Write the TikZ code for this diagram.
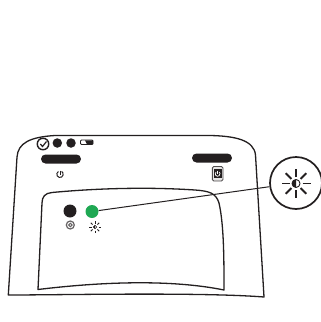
\documentclass[tikz,border=0pt]{standalone}
\definecolor{ink}{HTML}{231F20}
\definecolor{ledgreen}{HTML}{1FA853}
\tikzset{
  outline/.style={draw=ink,line width=1.3pt,line join=round},
  pill/.style={fill=ink,rounded corners=4.5pt},
  led/.style={circle,minimum size=13pt,inner sep=0pt},
  leader/.style={draw=ink,line width=1pt},
  raythick/.style={draw=ink,line width=1.9pt},
}
\begin{document}
\begin{tikzpicture}[x=1pt,y=-1pt]
\useasboundingbox (0,0) rectangle (321,322);
% housing
\draw[outline] (8.3,295) .. controls (60,295) and (200,292) .. (264,297)
  -- (255.5,155) .. controls (254,140) and (235,136) .. (210,135.5)
  -- (55,135.5) .. controls (30,137) and (18,143) .. (17,157) -- cycle;
% inner panel
\draw[outline] (38,289.5) .. controls (100,282) and (170,279) .. (224,290)
  .. controls (224,260) and (224,225) .. (219,203)
  .. controls (216,193) and (209,191) .. (195,190)
  .. controls (150,187) and (100,188) .. (52,192.5)
  .. controls (45,193) and (42,197) .. (42,203) -- cycle;
% top icons
\node[circle,draw=ink,line width=1.4pt,fill=white,minimum size=11.5pt,inner sep=0pt] (check) at (43,144) {};
\draw[draw=ink,line width=1.2pt] (40.3,144) -- (42.5,146.5) -- (46.5,141.5);
\node[circle,fill=ink,minimum size=9.5pt,inner sep=0pt] (d1) at (57.3,143) {};
\node[circle,fill=ink,minimum size=9.5pt,inner sep=0pt] (d2) at (71,143) {};
\draw[draw=ink,line width=0.8pt,rounded corners=1pt] (80.5,140) rectangle (93,144.5);
\fill[ink] (85,140.3) -- (93,140.3) -- (93,144.3) -- (87,144.3) -- cycle;
% pills
\node[pill,minimum width=40pt,minimum height=9pt,inner sep=0pt] (pl) at (61,159) {};
\node[pill,minimum width=40pt,minimum height=9pt,inner sep=0pt] (pr) at (212,158) {};
% power icon
\draw[draw=ink,line width=1pt] (58.4,171.5) arc (-120:-420:3.2);
\draw[draw=ink,line width=1pt] (60,170.5) -- (60,174.5);
% phone icon
\draw[draw=ink!80,line width=0.9pt,fill=ink!12,rounded corners=1.5pt] (212.3,166.5) rectangle (223,181);
\fill[ink] (213.5,169) rectangle (222,178);
\draw[white,line width=0.7pt] (216.1,172) arc (-130:-410:2.4);
\draw[white,line width=0.7pt] (217.7,170.5) -- (217.7,173.5);
% LEDs
\node[led,fill=ink] (black) at (70,211) {};
\node[led,fill=ledgreen] (green) at (92,211.5) {};
% target icon
\node[circle,draw=ink!70,line width=1.2pt,minimum size=8pt,inner sep=0pt] (target) at (70.3,225) {};
\node[circle,draw=ink!70,line width=1pt,minimum size=3.5pt,inner sep=0pt] at (70.3,225) {};
% small sun
\foreach \a in {0,45,...,315}
  \draw[ink,line width=0.9pt] (95,227)+(\a:3.5) -- +(\a:6);
\draw[ink,line width=0.5pt] (95,227) circle (1.7);
\fill[ink] (95,225.3) arc (-90:-270:1.7) -- cycle;
% callout
\node[circle,draw=ink,line width=1.7pt,fill=white,minimum size=52pt,inner sep=0pt] (callout) at (296,183) {};
\draw[leader] (green) -- (callout);
\foreach \a in {0,45,...,315}
  \draw[raythick] (296,183.5)+(\a:6.5) -- +(\a:14.5);
\draw[ink,line width=0.9pt] (296,183.5) circle (4);
\fill[ink] (296,179.5) arc (-90:-270:4) -- cycle;
\end{tikzpicture}
\end{document}
